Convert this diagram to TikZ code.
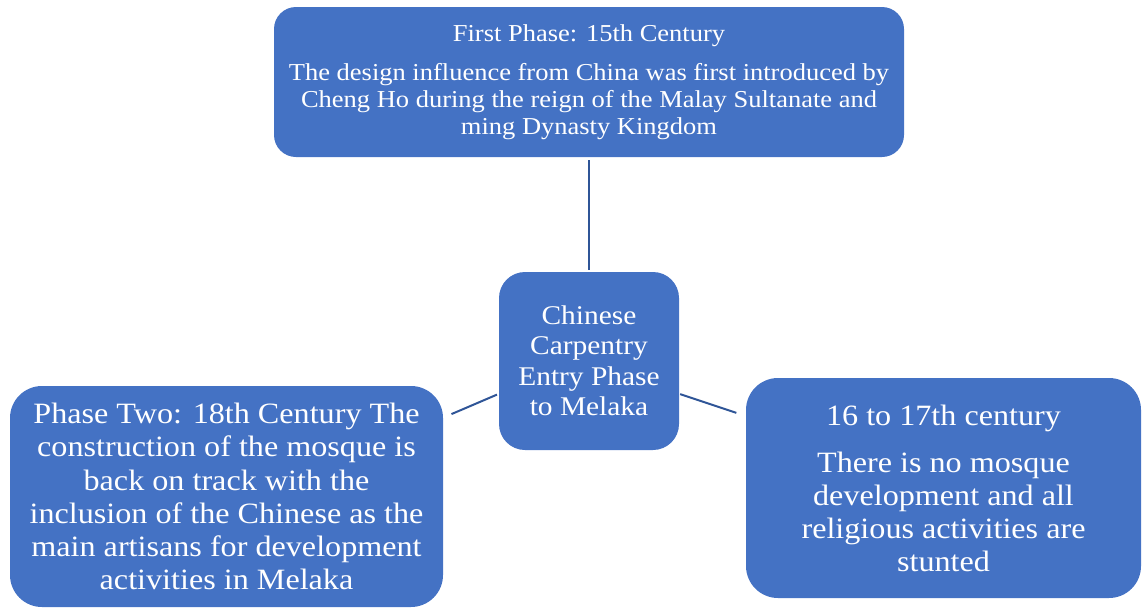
\documentclass[tikz,border=0pt]{standalone}
\usepackage{fontspec}
\setmainfont[FakeStretch=1.09]{Liberation Serif}
\definecolor{boxfill}{HTML}{4472C4}
\definecolor{linkcol}{HTML}{2F5597}
\begin{document}
\begin{tikzpicture}[x=1pt,y=-1pt,
  pbox/.style={draw=none, fill=boxfill, text=white, align=center, inner sep=0pt, anchor=center},
  link/.style={draw=linkcol, line width=2pt}]
\useasboundingbox (0,0) rectangle (1142,608);
\node[pbox, rounded corners=22pt, minimum width=630pt, minimum height=150pt,
  font=\fontsize{24.3}{27}\selectfont] (top) at (589,82)
  {First Phase: 15th Century\\[12pt]
   The design influence from China was first introduced by\\
   Cheng Ho during the reign of the Malay Sultanate and\\
   ming Dynasty Kingdom};
\node[pbox, rounded corners=26pt, minimum width=180pt, minimum height=178pt,
  font=\fontsize{27}{30.5}\selectfont] (mid) at (589,361)
  {Chinese\\Carpentry\\Entry Phase\\to Melaka};
\node[pbox, rounded corners=32pt, minimum width=433pt, minimum height=221pt,
  font=\fontsize{29.5}{33.2}\selectfont] (left) at (226.5,496.5)
  {Phase Two: 18th Century The\\
   construction of the mosque is\\
   back on track with the\\
   inclusion of the Chinese as the\\
   main artisans for development\\
   activities in Melaka};
\node[pbox, rounded corners=32pt, minimum width=395pt, minimum height=220pt,
  font=\fontsize{29.5}{33}\selectfont] (right) at (943.5,488)
  {16 to 17th century\\[14pt]
   There is no mosque\\
   development and all\\
   religious activities are\\
   stunted};
\draw[link, shorten <=2pt, shorten >=3pt] (mid.north) -- (top.south);
\draw[link, shorten <=2pt, shorten >=9pt] (mid.200) -- (left.20);
\draw[link, shorten <=1pt, shorten >=10pt] (mid.340) -- (right.160);
\end{tikzpicture}
\end{document}
